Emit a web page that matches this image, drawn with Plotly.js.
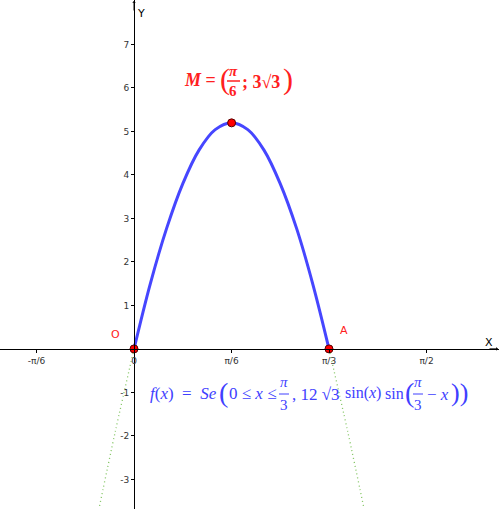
<!DOCTYPE html>
<html>
<head>
<meta charset="utf-8">
<script src="https://cdn.plot.ly/plotly-3.0.1.min.js"></script>
<style>html,body{margin:0;padding:0;background:#fff;}#chart{width:499px;height:509px;}</style>
</head>
<body>
<div id="chart"></div>
<script>
// Curve values (x in radians)
var curveX = [0, 0.087, 0.175, 0.262, 0.349, 0.436, 0.524, 0.611, 0.698, 0.785, 0.873, 0.960, 1.047];
var curveY = [0, 1.49, 2.77, 3.80, 4.57, 5.04, 5.20, 5.04, 4.57, 3.80, 2.77, 1.49, 0];
// dotted continuation outside the interval
var leftDotX = [0, -0.10, -0.19];
var leftDotY = [0, -1.89, -3.71];
var rightDotX = [1.047, 1.147, 1.237];
var rightDotY = [0, -1.89, -3.71];
// points O, A, M
var ptNames = ["O", "A", "M"];
var ptX = [0, 1.047, 0.524];
var ptY = [0, 0, 5.196];
// ticks
var xTickVals = [-0.5236, 0, 0.5236, 1.0472, 1.5708];
var xTickText = ["-π/6", "0", "π/6", "π/3", "π/2"];
var yTickVals = [-3, -2, -1, 1, 2, 3, 4, 5, 6, 7];
var yTickText = ["-3", "-2", "-1", "1", "2", "3", "4", "5", "6", "7"];

var X0 = -0.7197, X1 = 1.960, Y0 = -3.68, Y1 = 8.02;
var W = 499, H = 509;
function dx(px){ return X0 + px / W * (X1 - X0); }
function dy(py){ return Y1 - py / H * (Y1 - Y0); }

var red = "#ff2020", blue = "#4040ff", green = "#80c460";
var serif = "Liberation Serif";

var traces = [
  {x: leftDotX, y: leftDotY, mode: "lines", line: {color: green, width: 1.3, dash: "1px,3px", shape: "spline"}, hoverinfo: "skip"},
  {x: rightDotX, y: rightDotY, mode: "lines", line: {color: green, width: 1.3, dash: "1px,3px", shape: "spline"}, hoverinfo: "skip"},
  {x: curveX, y: curveY, mode: "lines", line: {color: "#4646ff", width: 3, shape: "spline"}, hoverinfo: "skip"},
  {x: ptX, y: ptY, mode: "markers", marker: {color: "#ff0000", size: 8, line: {color: "#550000", width: 1}}, text: ptNames, hoverinfo: "skip"}
];

function txt(px, py, t, opts){
  opts = opts || {};
  return {x: dx(px), y: dy(py), xref: "x", yref: "y", text: t, showarrow: false,
    xanchor: opts.xa || "center", yanchor: "middle",
    font: {family: opts.family || "DejaVu Sans", size: opts.size || 12, color: opts.color || "#000"}};
}

var ann = [
  txt(489, 342, "X", {size: 11}),
  txt(141, 13, "Y", {size: 11}),
  txt(115, 334, "O", {color: red, size: 11}),
  txt(344, 330, "A", {color: red, size: 11}),
  // M label
  txt(222, 80, "<b><i>M</i> = </b>", {xa: "right", family: serif, size: 18, color: red}),
  txt(225, 79, "(", {family: serif, size: 30, color: red}),
  txt(233, 71, "<b><i>π</i></b>", {family: serif, size: 15, color: red}),
  txt(233, 91, "<b>6</b>", {family: serif, size: 15, color: red}),
  txt(240, 82, "<b>; 3√3</b>", {xa: "left", family: serif, size: 18, color: red}),
  txt(288, 79, ")", {family: serif, size: 30, color: red}),
  // formula
  txt(148, 393, "<i>f</i>(<i>x</i>)  =  <i>Se</i>", {xa: "left", family: serif, size: 17, color: blue}),
  txt(223, 392, "(", {family: serif, size: 28, color: blue}),
  txt(227, 393, "0 ≤ <i>x</i> ≤", {xa: "left", family: serif, size: 17, color: blue}),
  txt(284, 382, "<i>π</i>", {family: serif, size: 15, color: blue}),
  txt(284, 405, "3", {family: serif, size: 15, color: blue}),
  txt(290, 394, ", 12 √3", {xa: "left", family: serif, size: 17, color: blue}),
  txt(343, 393, "sin(<i>x</i>)", {xa: "left", family: serif, size: 16, color: blue}),
  txt(383, 393, "sin", {xa: "left", family: serif, size: 16, color: blue}),
  txt(409, 392, "(", {family: serif, size: 28, color: blue}),
  txt(418, 382, "<i>π</i>", {family: serif, size: 15, color: blue}),
  txt(418, 405, "3", {family: serif, size: 15, color: blue}),
  txt(425, 394, "− <i>x</i>", {xa: "left", family: serif, size: 17, color: blue}),
  txt(459, 392, "))", {family: serif, size: 26, color: blue}),
  // axis arrows
  {x: dx(498), y: 0, ax: dx(488), ay: 0, xref: "x", yref: "y", axref: "x", ayref: "y", showarrow: true, text: "", arrowhead: 1, arrowsize: 0.6, arrowwidth: 1, arrowcolor: "#000"},
  {x: 0, y: dy(1), ax: 0, ay: dy(12), xref: "x", yref: "y", axref: "x", ayref: "y", showarrow: true, text: "", arrowhead: 1, arrowsize: 0.6, arrowwidth: 1, arrowcolor: "#000"}
];

var shapes = [
  {type: "line", xref: "x", yref: "y", x0: dx(227), x1: dx(240), y0: dy(81), y1: dy(81), line: {color: red, width: 1.5}},
  {type: "line", xref: "x", yref: "y", x0: dx(279), x1: dx(289), y0: dy(394), y1: dy(394), line: {color: blue, width: 1}},
  {type: "line", xref: "x", yref: "y", x0: dx(413), x1: dx(423), y0: dy(394), y1: dy(394), line: {color: blue, width: 1}}
];

var layout = {
  width: W, height: H,
  margin: {l: 0, r: 0, t: 0, b: 0},
  paper_bgcolor: "#fff", plot_bgcolor: "#fff",
  showlegend: false,
  xaxis: {range: [X0, X1], showgrid: false, zeroline: false, showline: true, linecolor: "#000", linewidth: 1,
    anchor: "free", position: (0 - Y0) / (Y1 - Y0),
    tickvals: xTickVals, ticktext: xTickText, ticks: "outside", ticklen: 3, tickcolor: "#000",
    tickfont: {family: "DejaVu Sans", size: 9, color: "#333"}},
  yaxis: {range: [Y0, Y1], showgrid: false, zeroline: false, showline: true, linecolor: "#000", linewidth: 1,
    anchor: "free", position: (0 - X0) / (X1 - X0),
    tickvals: yTickVals, ticktext: yTickText, ticks: "outside", ticklen: 3, tickcolor: "#000",
    tickfont: {family: "DejaVu Sans", size: 9, color: "#333"}},
  annotations: ann,
  shapes: shapes
};

Plotly.newPlot("chart", traces, layout, {displayModeBar: false, staticPlot: true});
</script>
</body>
</html>
